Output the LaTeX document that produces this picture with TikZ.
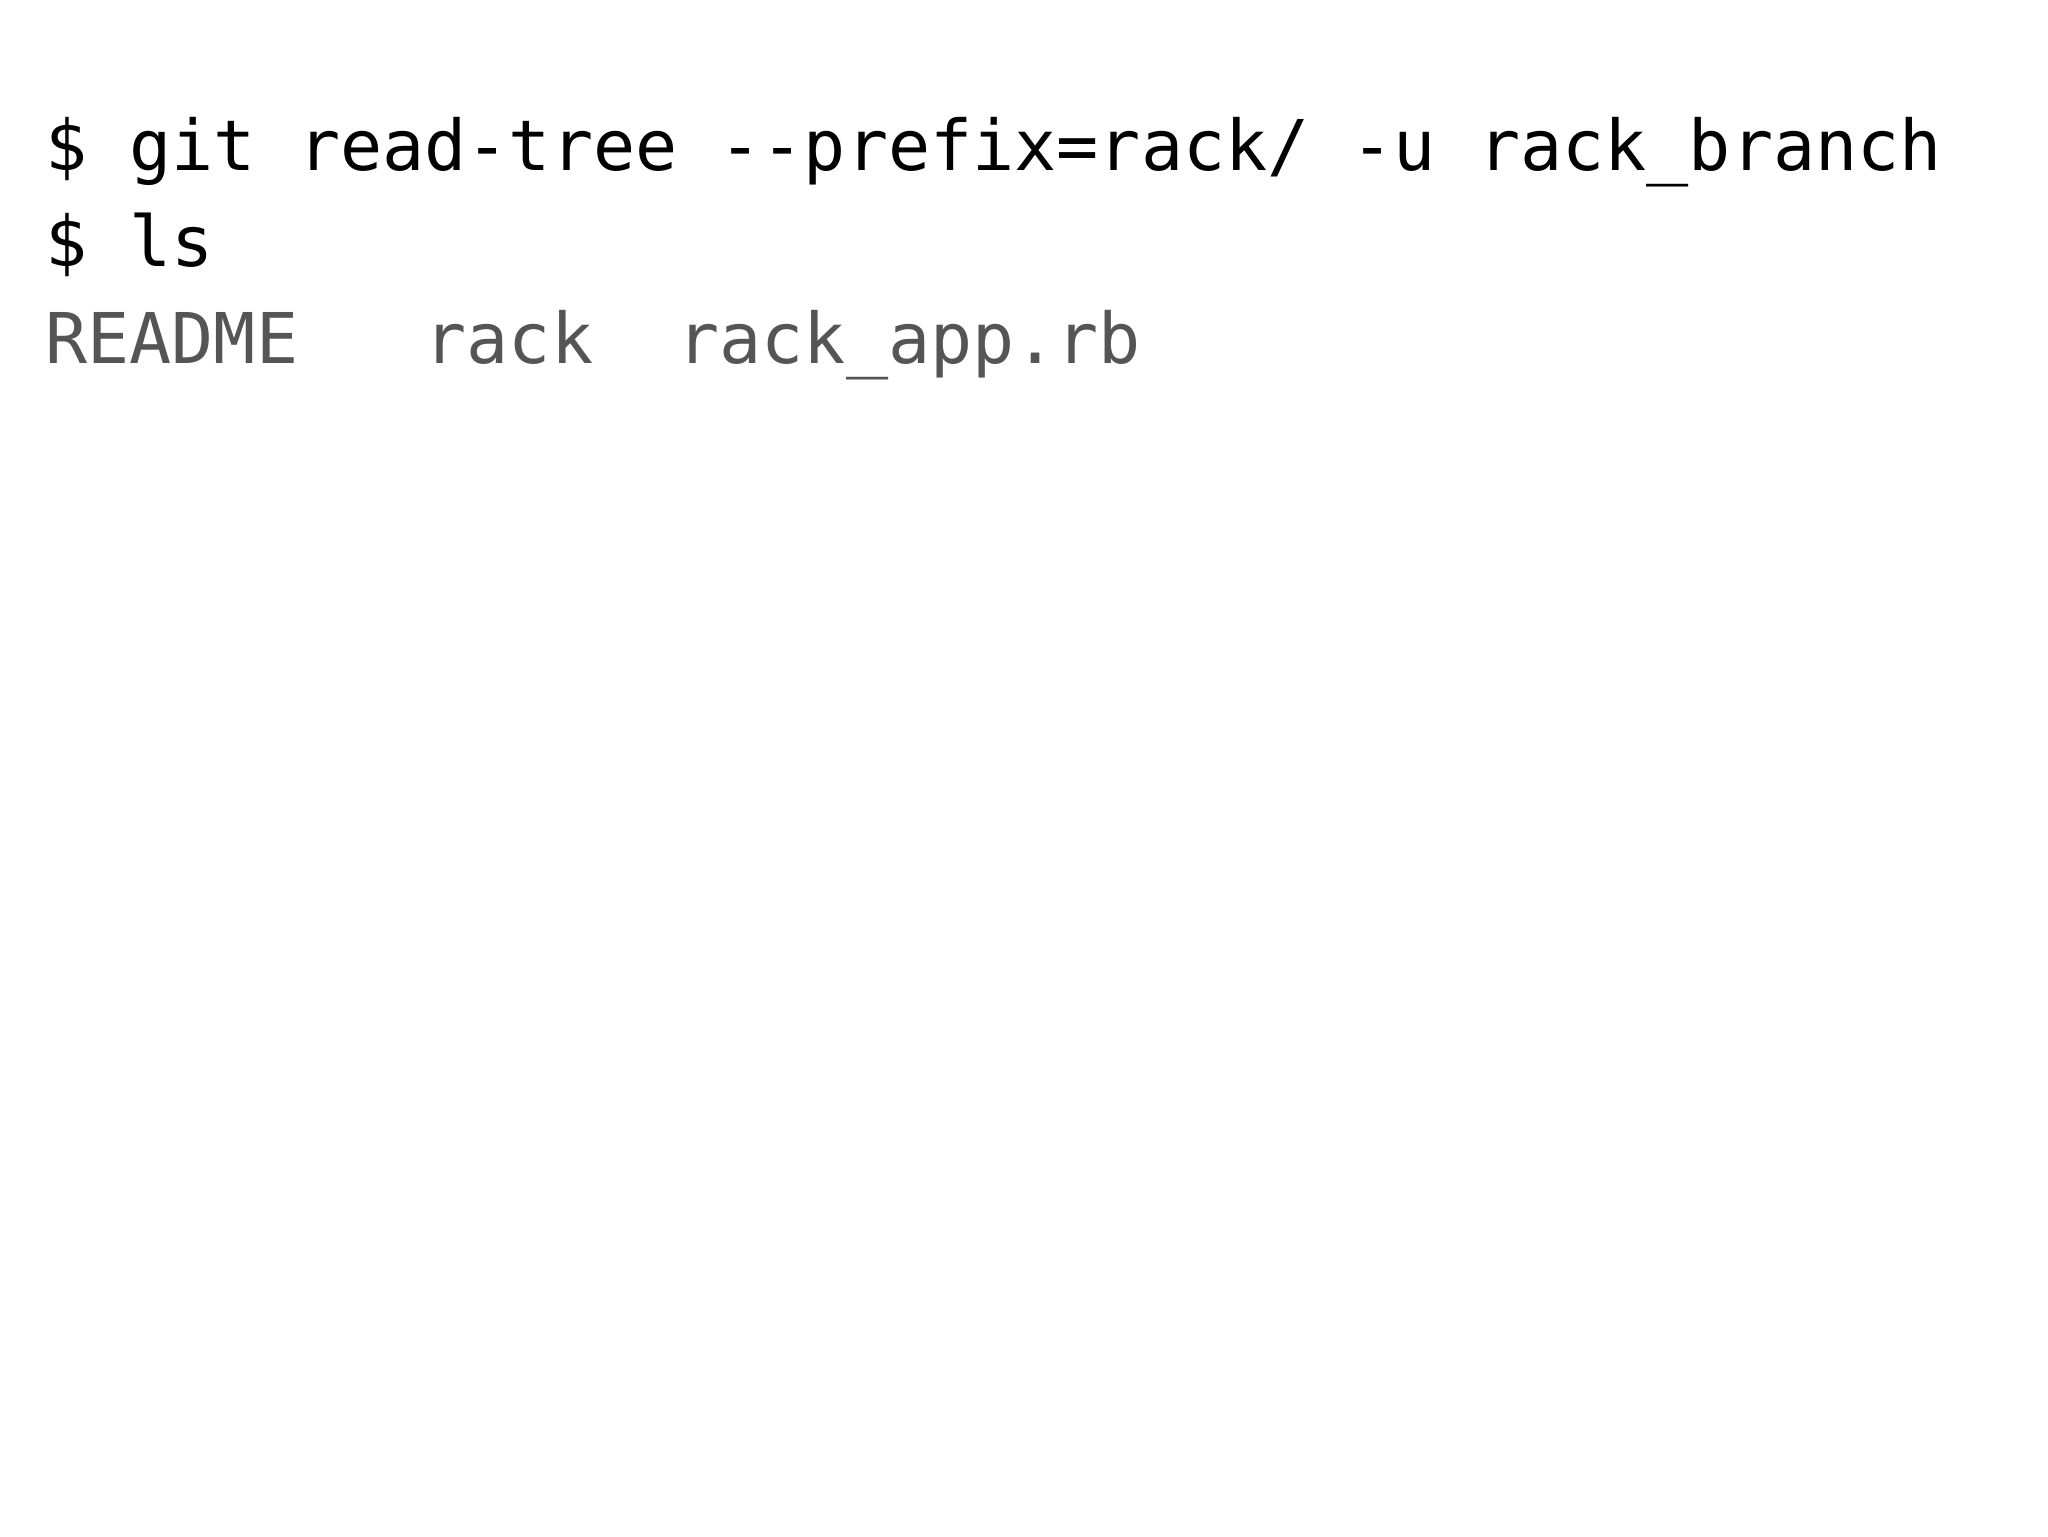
\documentclass[tikz,border=0pt]{standalone}
\usepackage{fontspec}
\setmonofont{DejaVu Sans Mono}
\definecolor{outgray}{HTML}{555555}
\begin{document}
\begin{tikzpicture}[x=1pt,y=1pt,
  term/.style={anchor=base west,inner sep=0pt,font=\ttfamily\fontsize{35}{42}\selectfont}]
\useasboundingbox[fill=white] (0,0) rectangle (1024,-768);
\node[term] (l1) at (22.5,-85) {\$ git read-tree -{}-prefix=rack/ -u rack\_branch};
\node[term] (l2) at (22.5,-133) {\$ ls};
\node[term,text=outgray] (l3) at (22.5,-181.5) {README\ \ \ rack\ \ rack\_app.rb};
\end{tikzpicture}
\end{document}
